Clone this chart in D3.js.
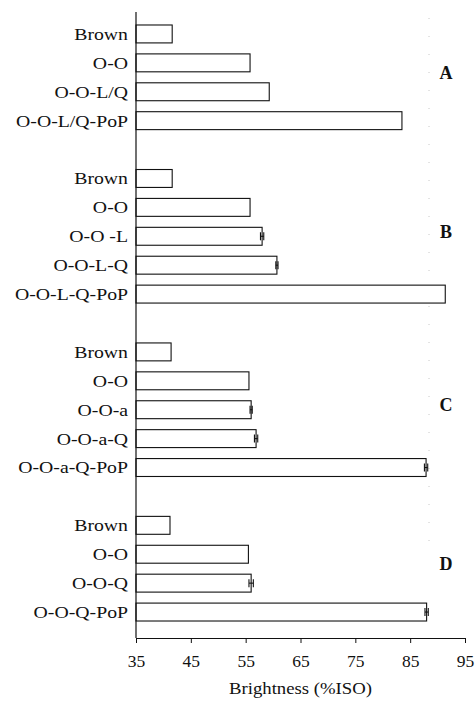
<!DOCTYPE html>
<html>
<head>
<meta charset="utf-8">
<script src="https://cdn.jsdelivr.net/npm/d3@7"></script>
<style>
  body { margin: 0; background: #fff; }
  svg { display: block; }
</style>
</head>
<body>
<svg id="chart" width="476" height="702"></svg>
<script>
'use strict';

// panels
const groupNames = ['A', 'B', 'C', 'D'];

const labelsA = ['Brown', 'O-O', 'O-O-L/Q', 'O-O-L/Q-PoP'];
const valuesA = [41.6, 55.8, 59.3, 83.5];
const errorsA = [0, 0, 0, 0];

const labelsB = ['Brown', 'O-O', 'O-O -L', 'O-O-L-Q', 'O-O-L-Q-PoP'];
const valuesB = [41.6, 55.8, 58.0, 60.7, 91.4];
const errorsB = [0, 0, 0.3, 0.2, 0];

const labelsC = ['Brown', 'O-O', 'O-O-a', 'O-O-a-Q', 'O-O-a-Q-PoP'];
const valuesC = [41.4, 55.6, 56.0, 56.9, 87.9];
const errorsC = [0, 0, 0.2, 0.3, 0.3];

const labelsD = ['Brown', 'O-O', 'O-O-Q', 'O-O-Q-PoP'];
const valuesD = [41.2, 55.5, 56.0, 88.0];
const errorsD = [0, 0, 0.4, 0.3];

const xTicks = [35, 45, 55, 65, 75, 85, 95];
const xTitle = 'Brightness (%ISO)';

const FONT = "'Liberation Serif', 'Times New Roman', 'DejaVu Serif', serif";

const groups = [
  { name: groupNames[0], labels: labelsA, values: valuesA, errors: errorsA },
  { name: groupNames[1], labels: labelsB, values: valuesB, errors: errorsB },
  { name: groupNames[2], labels: labelsC, values: valuesC, errors: errorsC },
  { name: groupNames[3], labels: labelsD, values: valuesD, errors: errorsD }
];

// flatten to rows, with an empty slot between panels
const rows = [];
const rowKeys = [];
groups.forEach((g, gi) => {
  if (gi > 0) rowKeys.push('gap-' + gi);
  g.labels.forEach((label, i) => {
    const key = g.name + '-' + i;
    rowKeys.push(key);
    rows.push({ key, group: g.name, label, value: g.values[i], error: g.errors[i] });
  });
});

const svg = d3.select('#chart');
const axisLeftX = 136;
const axisBottomY = 638;

const x = d3.scaleLinear().domain([35, 95]).range([136, 465]);
const y = d3.scaleBand()
  .domain(rowKeys)
  .range([19.5, 626.5])
  .paddingInner(0.38)
  .paddingOuter(0.19);

// faint dotted scan line on the right
svg.append('line')
  .attr('x1', 429).attr('x2', 429)
  .attr('y1', 18).attr('y2', 545)
  .attr('stroke', '#c8c8c8')
  .attr('stroke-width', 1)
  .attr('stroke-dasharray', '1,17');

// bars
svg.append('g')
  .selectAll('rect')
  .data(rows)
  .join('rect')
  .attr('x', x(35))
  .attr('y', d => y(d.key))
  .attr('width', d => x(d.value) - x(35))
  .attr('height', y.bandwidth())
  .attr('fill', '#fff')
  .attr('stroke', '#111')
  .attr('stroke-width', 1.1);

// error bars
const errRows = rows.filter(d => d.error > 0);
const err = svg.append('g').attr('stroke', '#111').attr('stroke-width', 1.1);
errRows.forEach(d => {
  const cy = y(d.key) + y.bandwidth() / 2;
  const x0 = x(d.value - d.error), x1 = x(d.value + d.error);
  err.append('line').attr('x1', x0).attr('x2', x1).attr('y1', cy).attr('y2', cy);
  err.append('line').attr('x1', x0).attr('x2', x0).attr('y1', cy - 4).attr('y2', cy + 4);
  err.append('line').attr('x1', x1).attr('x2', x1).attr('y1', cy - 4).attr('y2', cy + 4);
});

// category labels (scan is slightly stretched horizontally)
svg.append('g')
  .selectAll('text')
  .data(rows)
  .join('text')
  .attr('transform', d => `translate(128,${y(d.key) + y.bandwidth() / 2}) scale(1.13,1)`)
  .attr('text-anchor', 'end')
  .attr('dy', '0.34em')
  .attr('fill', '#111')
  .style('font-family', FONT)
  .style('font-size', '17.5px')
  .text(d => d.label);

// panel letters
groups.forEach(g => {
  const first = y(g.name + '-0');
  const last = y(g.name + '-' + (g.labels.length - 1)) + y.bandwidth();
  svg.append('text')
    .attr('x', 446)
    .attr('y', (first + last) / 2 - 5)
    .attr('dy', '0.35em')
    .attr('text-anchor', 'middle')
    .attr('fill', '#111')
    .style('font-family', FONT)
    .style('font-size', '18px')
    .style('font-weight', 'bold')
    .text(g.name);
});

// y axis line
svg.append('line')
  .attr('x1', axisLeftX).attr('x2', axisLeftX)
  .attr('y1', 12).attr('y2', axisBottomY)
  .attr('stroke', '#111')
  .attr('stroke-width', 1.2);

// x axis
const xAxis = svg.append('g')
  .attr('transform', `translate(0,${axisBottomY})`)
  .call(d3.axisBottom(x).tickValues(xTicks).tickSize(5).tickPadding(12).tickSizeOuter(0));
xAxis.attr('font-family', null).attr('font-size', null);
xAxis.select('.domain').attr('stroke', '#111').attr('stroke-width', 1.2);
xAxis.selectAll('.tick line').attr('stroke', '#111');
xAxis.selectAll('.tick text')
  .style('font-size', '17.5px')
  .style('font-family', FONT)
  .attr('fill', '#111');

svg.append('text')
  .attr('transform', `translate(${(x(35) + x(95)) / 2},694) scale(1.07,1)`)
  .attr('text-anchor', 'middle')
  .attr('fill', '#111')
  .style('font-family', FONT)
  .style('font-size', '17.5px')
  .text(xTitle);
</script>
</body>
</html>
